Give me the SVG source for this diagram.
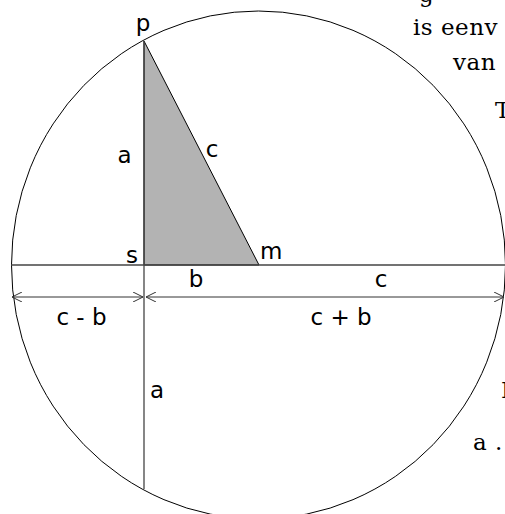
<svg xmlns="http://www.w3.org/2000/svg" width="505" height="514" viewBox="0 0 505 514">
<style>
.lbl{font-family:"DejaVu Sans","Liberation Sans",sans-serif;font-size:23px;fill:#000}
.txt{font-family:"DejaVu Serif","Liberation Serif",serif;font-size:23px;fill:#000;letter-spacing:0.5px}
.ln{stroke:#444;stroke-width:1.3;fill:none}
.arr{stroke:#333;stroke-width:1;fill:none}
</style>
<defs>
<marker id="ah" viewBox="0 0 10 10" refX="10" refY="5" markerWidth="10" markerHeight="10" markerUnits="userSpaceOnUse" orient="auto-start-reverse">
<path d="M0,0 L10,5 L0,10" fill="none" stroke="#333" stroke-width="1"/>
</marker>
</defs>
<rect width="505" height="514" fill="#fff"/>
<g id="circle"><ellipse cx="258.5" cy="265" rx="247" ry="254" fill="none" stroke="#000" stroke-width="1"/></g>
<g id="triangle"><polygon points="144,41 144,265 259,265" fill="#b3b3b3" stroke="#000" stroke-width="1"/></g>
<g id="connectors">
<line class="ln" x1="11" y1="265" x2="505" y2="265"/>
<line class="ln" x1="144" y1="41" x2="144" y2="489"/>
<line class="arr" x1="12" y1="297" x2="143" y2="297" marker-start="url(#ah)" marker-end="url(#ah)"/>
<line class="arr" x1="146" y1="297" x2="504" y2="297" marker-start="url(#ah)" marker-end="url(#ah)"/>
</g>
<g id="labels">
<text class="lbl" x="143" y="31" text-anchor="middle">p</text>
<text class="lbl" x="124.5" y="163" text-anchor="middle">a</text>
<text class="lbl" x="212" y="157" text-anchor="middle">c</text>
<text class="lbl" x="132" y="263" text-anchor="middle">s</text>
<text class="lbl" x="260" y="259">m</text>
<text class="lbl" x="196" y="287" text-anchor="middle">b</text>
<text class="lbl" x="381" y="287" text-anchor="middle">c</text>
<text class="lbl" x="81.5" y="325" text-anchor="middle">c - b</text>
<text class="lbl" x="341" y="325" text-anchor="middle">c + b</text>
<text class="lbl" x="157" y="398" text-anchor="middle">a</text>
</g>
<g id="sidetext">
<text class="txt" x="419" y="2">g</text>
<text class="txt" x="413" y="35">is eenv</text>
<text class="txt" x="453" y="70">van</text>
<text class="txt" x="495" y="118">T</text>
<text class="txt" x="501" y="398">I</text>
<text class="txt" x="473" y="450">a .</text>
</g>
</svg>
